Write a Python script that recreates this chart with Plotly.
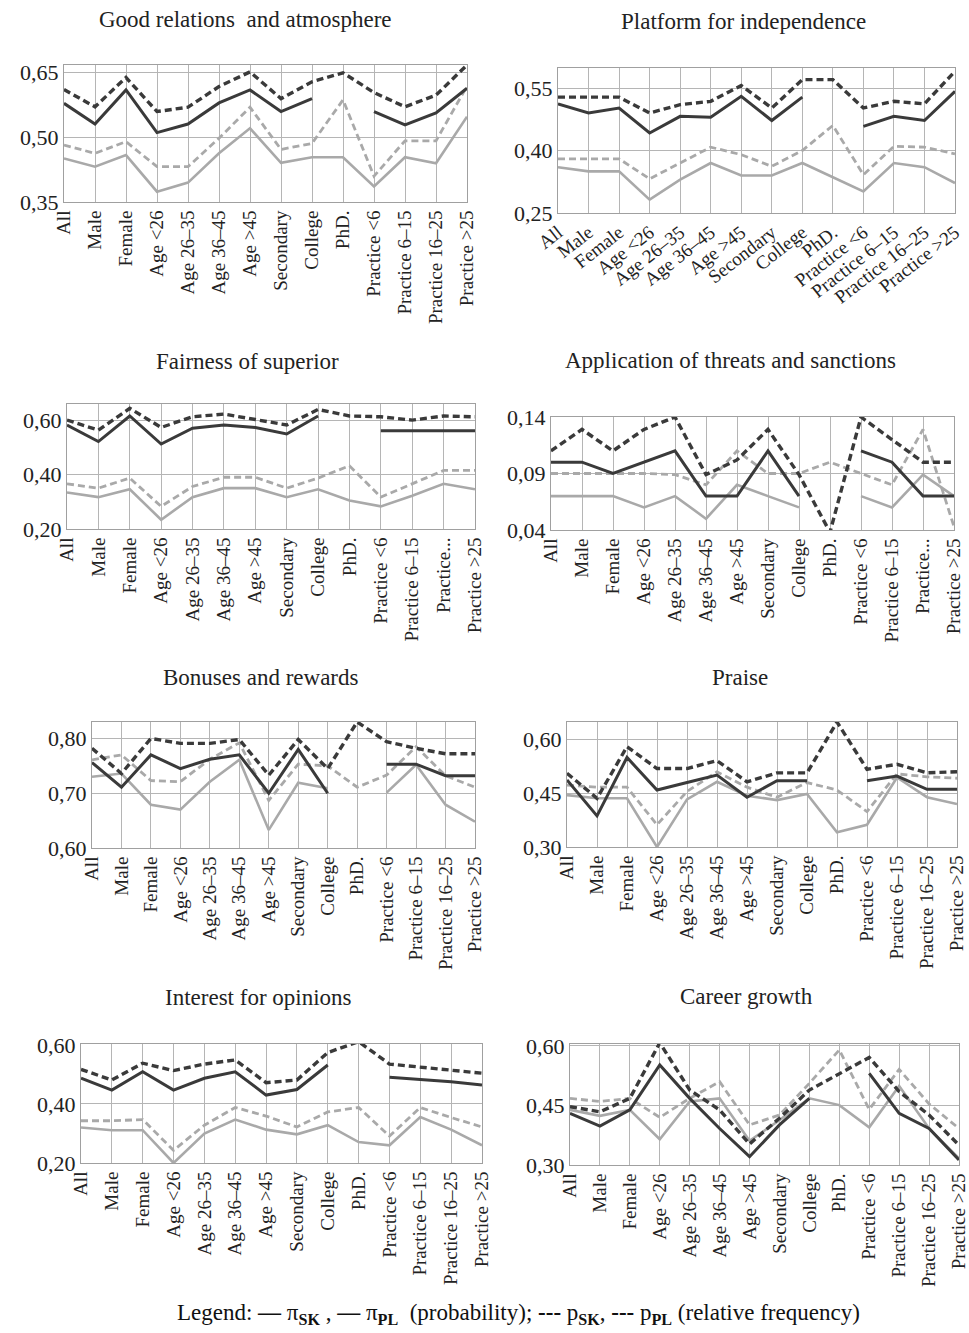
import plotly.graph_objects as go

W, H = 969, 1333

categories = ["All", "Male", "Female", "Age <26", "Age 26–35", "Age 36–45", "Age >45",
              "Secondary", "College", "PhD.", "Practice <6", "Practice 6–15",
              "Practice 16–25", "Practice >25"]
labels_short = ["All", "Male", "Female", "Age <26", "Age 26–35", "Age 36–45", "Age >45",
                "Secondary", "College", "PhD.", "Practice <6", "Practice 6–15",
                "Practice...", "Practice >25"]

titles = ["Good relations  and atmosphere", "Platform for independence",
          "Fairness of superior", "Application of threats and sanctions",
          "Bonuses and rewards", "Praise", "Interest for opinions", "Career growth"]

# series per panel: pi_SK (dark solid), pi_PL (light solid), p_SK (dark dashed), p_PL (light dashed)
good_pi_sk = [0.579, 0.531, 0.610, 0.511, 0.531, 0.580, 0.610, 0.560, 0.590, None, 0.560, 0.529, 0.557, 0.614]
good_pi_pl = [0.451, 0.432, 0.459, 0.374, 0.395, 0.463, 0.521, 0.441, 0.454, 0.454, 0.386, 0.454, 0.440, 0.548]
good_p_sk = [0.611, 0.571, 0.639, 0.560, 0.570, 0.618, 0.652, 0.590, 0.629, 0.650, 0.604, 0.571, 0.598, 0.668]
good_p_pl = [0.482, 0.463, 0.490, 0.432, 0.432, 0.498, 0.570, 0.472, 0.486, 0.587, 0.410, 0.492, 0.492, 0.619]

plat_pi_sk = [0.512, 0.490, 0.502, 0.442, 0.482, 0.480, 0.530, 0.472, 0.528, None, 0.458, 0.482, 0.472, 0.542]
plat_pi_pl = [0.360, 0.350, 0.350, 0.282, 0.330, 0.370, 0.340, 0.340, 0.370, 0.336, 0.302, 0.370, 0.360, 0.322]
plat_p_sk = [0.528, 0.528, 0.528, 0.490, 0.510, 0.518, 0.556, 0.502, 0.570, 0.570, 0.502, 0.518, 0.512, 0.590]
plat_p_pl = [0.380, 0.380, 0.380, 0.332, 0.370, 0.408, 0.390, 0.362, 0.400, 0.460, 0.342, 0.410, 0.408, 0.392]

fair_pi_sk = [0.582, 0.521, 0.615, 0.512, 0.570, 0.582, 0.573, 0.549, 0.615, None, 0.561, 0.561, 0.561, 0.561]
fair_pi_pl = [0.334, 0.317, 0.346, 0.234, 0.317, 0.350, 0.350, 0.317, 0.346, 0.305, 0.283, 0.322, 0.366, 0.346]
fair_p_sk = [0.600, 0.563, 0.643, 0.573, 0.612, 0.622, 0.602, 0.582, 0.639, 0.615, 0.612, 0.600, 0.615, 0.612]
fair_p_pl = [0.366, 0.350, 0.387, 0.283, 0.356, 0.390, 0.390, 0.350, 0.387, 0.432, 0.317, 0.366, 0.415, 0.415]

thr_pi_sk = [0.100, 0.100, 0.090, 0.100, 0.110, 0.070, 0.070, 0.110, 0.070, None, 0.110, 0.100, 0.070, 0.070]
thr_pi_pl = [0.070, 0.070, 0.070, 0.060, 0.070, 0.050, 0.080, 0.070, 0.060, None, 0.070, 0.060, 0.089, 0.070]
thr_p_sk = [0.110, 0.129, 0.110, 0.129, 0.140, 0.089, 0.102, 0.129, 0.089, 0.038, 0.140, 0.120, 0.100, 0.100]
thr_p_pl = [0.090, 0.090, 0.090, 0.090, 0.089, 0.080, 0.110, 0.090, 0.090, 0.100, 0.090, 0.080, 0.129, 0.043]

bon_pi_sk = [0.756, 0.711, 0.770, 0.745, 0.762, 0.770, 0.700, 0.780, 0.700, None, 0.753, 0.753, 0.732, 0.732]
bon_pi_pl = [0.730, 0.736, 0.679, 0.670, 0.721, 0.761, 0.633, 0.719, 0.709, None, 0.701, 0.752, 0.679, 0.648]
bon_p_sk = [0.782, 0.736, 0.800, 0.791, 0.791, 0.798, 0.733, 0.798, 0.745, 0.830, 0.794, 0.782, 0.772, 0.772]
bon_p_pl = [0.761, 0.770, 0.723, 0.721, 0.762, 0.792, 0.687, 0.753, 0.750, 0.711, 0.733, 0.785, 0.732, 0.711]

pr_pi_sk = [0.487, 0.387, 0.550, 0.459, 0.480, 0.501, 0.439, 0.485, 0.485, None, 0.485, 0.498, 0.461, 0.461]
pr_pi_pl = [0.445, 0.436, 0.436, 0.300, 0.433, 0.482, 0.443, 0.431, 0.448, 0.341, 0.362, 0.494, 0.439, 0.420]
pr_p_sk = [0.506, 0.436, 0.580, 0.519, 0.519, 0.541, 0.482, 0.507, 0.507, 0.649, 0.517, 0.531, 0.507, 0.510]
pr_p_pl = [0.473, 0.467, 0.467, 0.362, 0.455, 0.510, 0.467, 0.439, 0.480, 0.459, 0.399, 0.504, 0.496, 0.492]

int_pi_sk = [0.487, 0.447, 0.509, 0.447, 0.487, 0.509, 0.430, 0.449, 0.532, None, 0.490, 0.483, 0.475, 0.464]
int_pi_pl = [0.320, 0.311, 0.311, 0.200, 0.300, 0.347, 0.313, 0.297, 0.328, 0.271, 0.260, 0.356, 0.313, 0.260]
int_p_sk = [0.517, 0.481, 0.538, 0.513, 0.535, 0.549, 0.472, 0.481, 0.574, 0.611, 0.535, 0.524, 0.513, 0.504]
int_p_pl = [0.343, 0.343, 0.347, 0.243, 0.328, 0.388, 0.359, 0.322, 0.373, 0.388, 0.291, 0.388, 0.354, 0.322]

car_pi_sk = [0.430, 0.398, 0.439, 0.552, 0.468, 0.392, 0.321, 0.401, 0.468, None, 0.531, 0.430, 0.392, 0.313]
car_pi_pl = [0.439, 0.424, 0.439, 0.365, 0.460, 0.468, 0.361, 0.413, 0.468, 0.451, 0.395, 0.499, 0.392, 0.317]
car_p_sk = [0.447, 0.434, 0.468, 0.608, 0.489, 0.439, 0.353, 0.418, 0.489, 0.531, 0.571, 0.485, 0.426, 0.350]
car_p_pl = [0.468, 0.460, 0.468, 0.420, 0.468, 0.510, 0.401, 0.426, 0.506, 0.590, 0.440, 0.541, 0.454, 0.392]

y_ticks = [[0.35, 0.50, 0.65], [0.25, 0.40, 0.55], [0.20, 0.40, 0.60], [0.04, 0.09, 0.14],
           [0.60, 0.70, 0.80], [0.30, 0.45, 0.60], [0.20, 0.40, 0.60], [0.30, 0.45, 0.60]]

panels = [
    (good_pi_sk, good_pi_pl, good_p_sk, good_p_pl),
    (plat_pi_sk, plat_pi_pl, plat_p_sk, plat_p_pl),
    (fair_pi_sk, fair_pi_pl, fair_p_sk, fair_p_pl),
    (thr_pi_sk, thr_pi_pl, thr_p_sk, thr_p_pl),
    (bon_pi_sk, bon_pi_pl, bon_p_sk, bon_p_pl),
    (pr_pi_sk, pr_pi_pl, pr_p_sk, pr_p_pl),
    (int_pi_sk, int_pi_pl, int_p_sk, int_p_pl),
    (car_pi_sk, car_pi_pl, car_p_sk, car_p_pl),
]

# layout geometry (pixels): left, right, top, bottom, y-range, title x, title y, tick angle, labels
geo = [
    (64, 467, 65, 202, [0.35, 0.668], 245, 20, -90, categories),
    (558, 955, 68, 213, [0.25, 0.598], 743, 22, -38, categories),
    (67, 475, 404, 529, [0.20, 0.659], 248, 361, -90, labels_short),
    (551, 954, 417, 530, [0.04, 0.14], 730, 360, -90, labels_short),
    (92, 475, 722, 848, [0.60, 0.830], 261, 677, -90, categories),
    (567, 957, 722, 847, [0.30, 0.649], 740, 677, -90, categories),
    (81, 482, 1044, 1163, [0.20, 0.603], 258, 997, -90, categories),
    (570, 959, 1044, 1165, [0.30, 0.605], 746, 996, -90, categories),
]

DARK = "#3a3a3a"
LIGHT = "#a9a9a9"
FONT = "Liberation Serif"

fig = go.Figure()
annotations = []
layout = {}

styles = [
    ("π SK", DARK, 3, "solid"),
    ("π PL", LIGHT, 2.6, "solid"),
    ("p SK", DARK, 3.4, "7px,4px"),
    ("p PL", LIGHT, 2.8, "7px,4px"),
]

for i, (series, g) in enumerate(zip(panels, geo)):
    l, r, t, b, yr, tx, ty, ang, labs = g
    n = i + 1
    xa = "x" if n == 1 else f"x{n}"
    ya = "y" if n == 1 else f"y{n}"
    order = [3, 1, 2, 0]
    for k in order:
        name, col, w, dash = styles[k]
        fig.add_trace(go.Scatter(
            x=categories, y=series[k], mode="lines", name=name,
            line=dict(color=col, width=w, dash=dash),
            xaxis=xa, yaxis=ya, showlegend=False, connectgaps=False,
            hoverinfo="skip"))
    layout[f"xaxis{n}"] = dict(
        domain=[l / W, r / W], anchor=ya, type="category",
        categoryorder="array", categoryarray=categories,
        range=[0, len(categories) - 1],
        tickvals=categories, ticktext=labs, tickangle=ang,
        showgrid=True, gridcolor="#b5b5b5", gridwidth=1,
        showline=True, linecolor="#a0a0a0", linewidth=1, mirror=True,
        ticks="", tickfont=dict(family=FONT, size=19, color="#222"),
        zeroline=False, fixedrange=True, automargin=False)
    layout[f"yaxis{n}"] = dict(
        domain=[1 - b / H, 1 - t / H], anchor=xa, range=yr,
        tickvals=y_ticks[i], ticktext=[f"{v:.2f}".replace(".", ",") for v in y_ticks[i]],
        showgrid=True, gridcolor="#b5b5b5", gridwidth=1,
        showline=True, linecolor="#a0a0a0", linewidth=1, mirror=True,
        ticks="", tickfont=dict(family=FONT, size=22, color="#222"),
        zeroline=False, fixedrange=True, automargin=False)
    annotations.append(dict(
        text=titles[i], x=tx / W, y=1 - ty / H, xref="paper", yref="paper",
        xanchor="center", yanchor="middle", showarrow=False,
        font=dict(family=FONT, size=23, color="#222")))

annotations.append(dict(
    text="Legend: <b>—</b> π<sub><b>SK</b></sub> , <b>—</b> π<sub><b>PL</b></sub>  (probability); "
         "<b>---</b> p<sub><b>SK</b></sub>, <b>---</b> p<sub><b>PL</b></sub> (relative frequency)",
    x=518 / W, y=1 - 1314 / H, xref="paper", yref="paper",
    xanchor="center", yanchor="middle", showarrow=False,
    font=dict(family=FONT, size=23, color="#111")))

fig.update_layout(
    width=W, height=H, margin=dict(l=0, r=0, t=0, b=0, autoexpand=False),
    paper_bgcolor="white", plot_bgcolor="white",
    annotations=annotations, showlegend=False, **layout)

fig.write_html("out.html", config={"displayModeBar": False},
               post_script="document.body.style.margin='0';document.body.style.overflow='hidden';")
